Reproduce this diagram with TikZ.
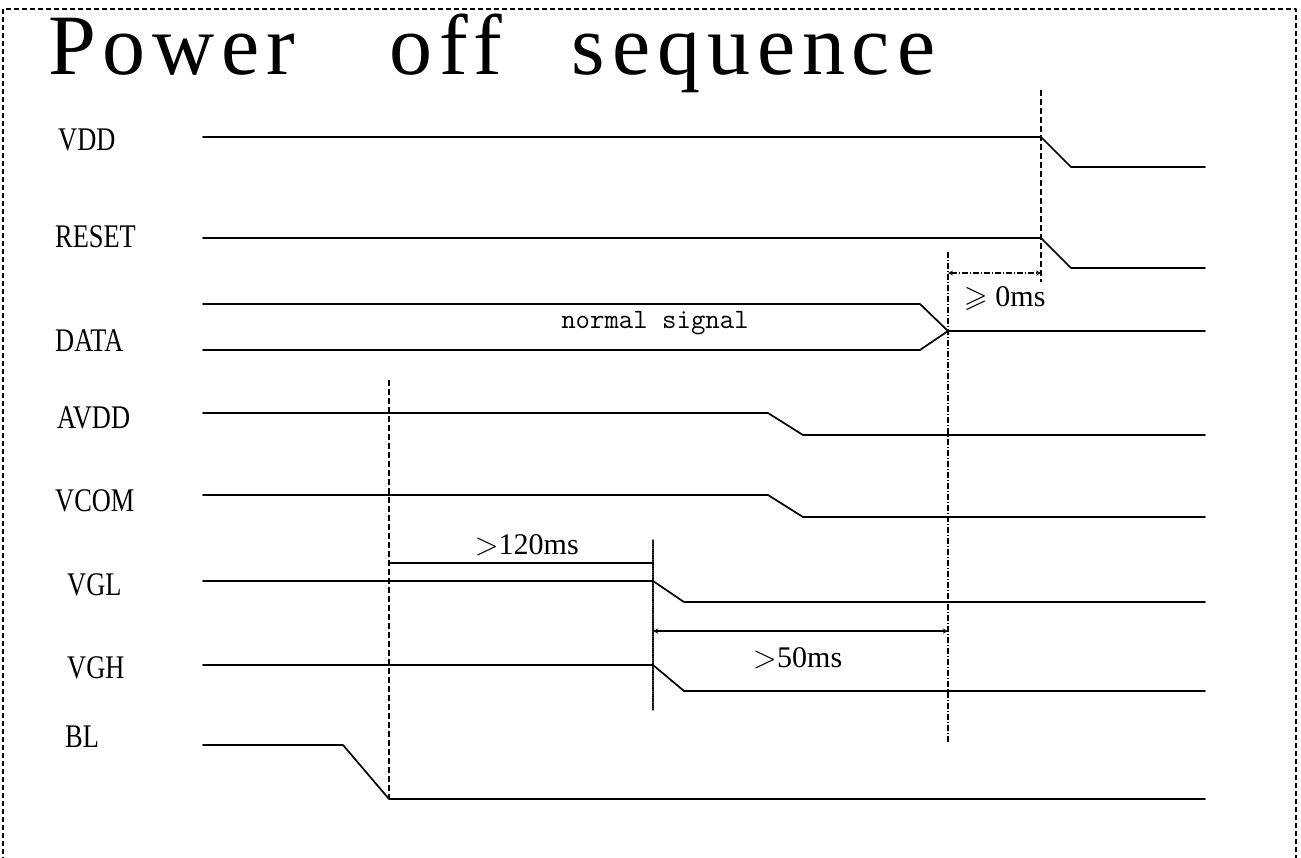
\documentclass[tikz,border=0pt]{standalone}
\usepackage{unicode-math}
\setmainfont{Liberation Serif}
\newcommand{\sigtxt}[1]{\scalebox{.8}[1]{#1}}
\tikzset{
  sig/.style={line width=1.7pt},
  guide/.style={line width=1.2pt,line cap=butt,dash pattern=on 6pt off 3pt},
  guidedot/.style={line width=1.2pt,line cap=butt,dash pattern=on 6pt off 2pt on 1pt off 2pt},
  lbl/.style={font=\fontsize{33}{33}\selectfont,anchor=base west,inner sep=0pt},
  tm/.style={font=\fontsize{30}{30}\selectfont,inner sep=0pt}
}
\begin{document}
\begin{tikzpicture}[x=1pt,y=-1pt,line join=round,line cap=round,>=stealth]
  \useasboundingbox (0,0) rectangle (1301,857);
  % frame
  \draw[line width=1.2pt,line cap=butt,dash pattern=on 5pt off 3pt] (3,870)--(3,9)--(1296,9)--(1296,870);
  \node[anchor=base west,inner sep=0pt,font=\fontsize{86}{86}\selectfont\addfontfeature{LetterSpace=8}] (title) at (48,74) {Power\hspace{94pt}off\hspace{70pt}sequence};
  % signal names
  \foreach \n/\x/\y in {VDD/58/150,RESET/55/247,DATA/55/351,AVDD/57/428,VCOM/55/511,VGL/67/595,VGH/67/678,BL/65/747}
    \node[lbl] (l\n) at (\x,\y) {\sigtxt{\n}};
  % edges
  \foreach \ya/\xa/\xb/\yb in {137/1041/1071/167,238/1041/1071/268,413/768/803/435,495/768/803/517,581/653/684/602,665/653/684/691,745/343/389/799}
    \draw[sig] (203,\ya)--(\xa,\ya)--(\xb,\yb)--(1205,\yb);
  \draw[sig] (203,304)--(920,304)--(948,331)--(920,350)--(203,350);
  \draw[sig] (948,331)--(1205,331);
  \node[font=\ttfamily\fontsize{28}{28}\selectfont,inner sep=0pt] (norm) at (655,323) {normal signal};
  % timing guides
  \coordinate (a1) at (1041,90);  \coordinate (a2) at (1041,282);
  \coordinate (b1) at (948,252);  \coordinate (b2) at (948,742);
  \coordinate (c1) at (389,380);  \coordinate (c2) at (389,799);
  \coordinate (d1) at (653,540);  \coordinate (d2) at (653,710);
  \draw[guide] (a1)--(a2);
  \draw[guidedot] (b1)--(b2);
  \draw[guide] (c1)--(c2);
  \draw[line width=1.2pt,densely dotted] (d1)--(d2);
  \draw[guidedot,<->] (b1|-0,273)--(a1|-0,273);
  \draw[line width=1.3pt,<->] (d1|-0,631)--(b1|-0,631);
  \draw[line width=1.5pt] (c1|-0,563)--(d1|-0,563);
  \node[tm] (t0) at (1005,299) {$\geqslant$\ 0ms};
  \node[tm] (t120) at (527,545) {$>$120ms};
  \node[tm] (t50) at (798,658) {$>$50ms};
\end{tikzpicture}
\end{document}
